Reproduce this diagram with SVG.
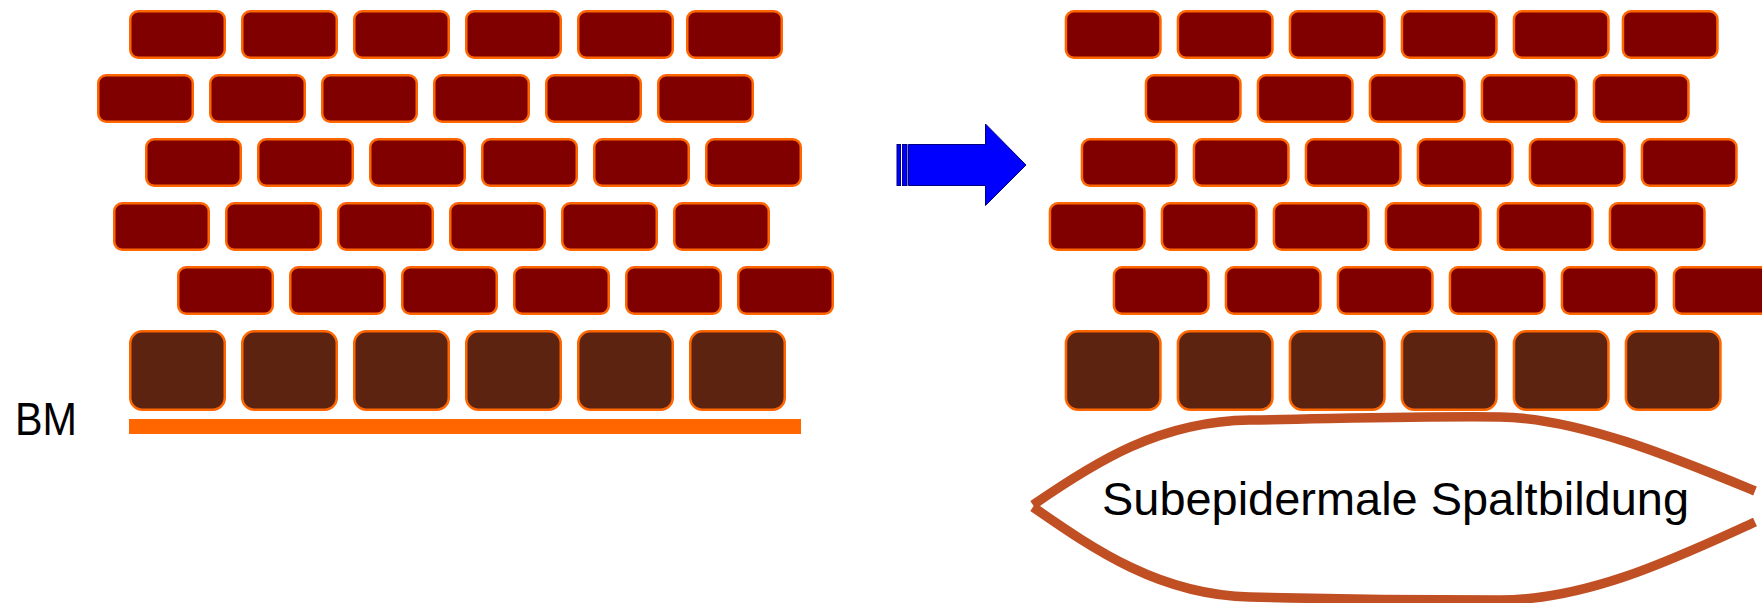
<svg xmlns="http://www.w3.org/2000/svg" width="1762" height="603" viewBox="0 0 1762 603">
<style>
.b{fill:#800000;stroke:#FF6600;stroke-width:2.5}
.k{fill:#5C2410;stroke:#FF6600;stroke-width:2.5}
.t{font-family:"Liberation Sans",Arial,sans-serif;fill:#000}
</style>
<defs>
<rect id="br" width="94.5" height="46.5" rx="8" ry="8"/>
<rect id="bc" width="94.5" height="78.5" rx="12" ry="12"/>
</defs>
<rect width="1762" height="603" fill="#fff"/>
<g id="left-wall">
<g id="l-row1" class="b" transform="translate(1.25,11.25)">
<use href="#br" x="129"/><use href="#br" x="241"/><use href="#br" x="353"/><use href="#br" x="465"/><use href="#br" x="577"/><use href="#br" x="686"/>
</g>
<g id="l-row2" class="b" transform="translate(1.25,75.25)">
<use href="#br" x="97"/><use href="#br" x="209"/><use href="#br" x="321"/><use href="#br" x="433"/><use href="#br" x="545"/><use href="#br" x="657"/>
</g>
<g id="l-row3" class="b" transform="translate(1.25,139.25)">
<use href="#br" x="145"/><use href="#br" x="257"/><use href="#br" x="369"/><use href="#br" x="481"/><use href="#br" x="593"/><use href="#br" x="705"/>
</g>
<g id="l-row4" class="b" transform="translate(1.25,203.25)">
<use href="#br" x="113"/><use href="#br" x="225"/><use href="#br" x="337"/><use href="#br" x="449"/><use href="#br" x="561"/><use href="#br" x="673"/>
</g>
<g id="l-row5" class="b" transform="translate(1.25,267.25)">
<use href="#br" x="177"/><use href="#br" x="289"/><use href="#br" x="401"/><use href="#br" x="513"/><use href="#br" x="625"/><use href="#br" x="737"/>
</g>
<g id="l-basal" class="k" transform="translate(1.25,331.25)">
<use href="#bc" x="129"/><use href="#bc" x="241"/><use href="#bc" x="353"/><use href="#bc" x="465"/><use href="#bc" x="577"/><use href="#bc" x="689"/>
</g>
<rect id="bm-line" x="129" y="419" width="672" height="15" fill="#FF6600"/>
<text id="bm-label" class="t" x="15" y="435" font-size="46" textLength="62" lengthAdjust="spacingAndGlyphs">BM</text>
</g>
<g id="arrow">
<rect x="897" y="144.5" width="3.5" height="41" fill="#0000FF" stroke="#000080" stroke-width="1"/>
<rect x="902.5" y="144.5" width="4.5" height="41" fill="#0000FF" stroke="#000080" stroke-width="1"/>
<polygon points="908.5,144.5 985.5,144.5 985.5,124 1026,165 985.5,205.5 985.5,185.5 908.5,185.5" fill="#0000FF" stroke="#000080" stroke-width="1"/>
</g>
<g id="right-wall">
<g id="r-row1" class="b" transform="translate(1.25,11.25)">
<use href="#br" x="1064.7"/><use href="#br" x="1176.7"/><use href="#br" x="1288.7"/><use href="#br" x="1400.7"/><use href="#br" x="1512.7"/><use href="#br" x="1621.7"/>
</g>
<g id="r-row2" class="b" transform="translate(1.25,75.25)">
<use href="#br" x="1144.7"/><use href="#br" x="1256.7"/><use href="#br" x="1368.7"/><use href="#br" x="1480.7"/><use href="#br" x="1592.7"/>
</g>
<g id="r-row3" class="b" transform="translate(1.25,139.25)">
<use href="#br" x="1080.7"/><use href="#br" x="1192.7"/><use href="#br" x="1304.7"/><use href="#br" x="1416.7"/><use href="#br" x="1528.7"/><use href="#br" x="1640.7"/>
</g>
<g id="r-row4" class="b" transform="translate(1.25,203.25)">
<use href="#br" x="1048.7"/><use href="#br" x="1160.7"/><use href="#br" x="1272.7"/><use href="#br" x="1384.7"/><use href="#br" x="1496.7"/><use href="#br" x="1608.7"/>
</g>
<g id="r-row5" class="b" transform="translate(1.25,267.25)">
<use href="#br" x="1112.7"/><use href="#br" x="1224.7"/><use href="#br" x="1336.7"/><use href="#br" x="1448.7"/><use href="#br" x="1560.7"/><use href="#br" x="1672.7"/>
</g>
<g id="r-basal" class="k" transform="translate(1.25,331.25)">
<use href="#bc" x="1064.7"/><use href="#bc" x="1176.7"/><use href="#bc" x="1288.7"/><use href="#bc" x="1400.7"/><use href="#bc" x="1512.7"/><use href="#bc" x="1624.7"/>
</g>
</g>
<g id="blister">
<path d="M1755,491 C1680,460 1580,418 1500,417 C1420,416 1330,419 1250,420 C1160,421 1095,462 1033,505 M1033,507 C1095,550 1160,595 1250,597 C1330,599 1420,600 1500,600 C1590,600 1680,556 1755,522" fill="none" stroke="#C05024" stroke-width="9.5" stroke-linejoin="miter"/>
<text id="blister-label" class="t" x="1102" y="515" font-size="47" textLength="587" lengthAdjust="spacingAndGlyphs">Subepidermale Spaltbildung</text>
</g>
</svg>
